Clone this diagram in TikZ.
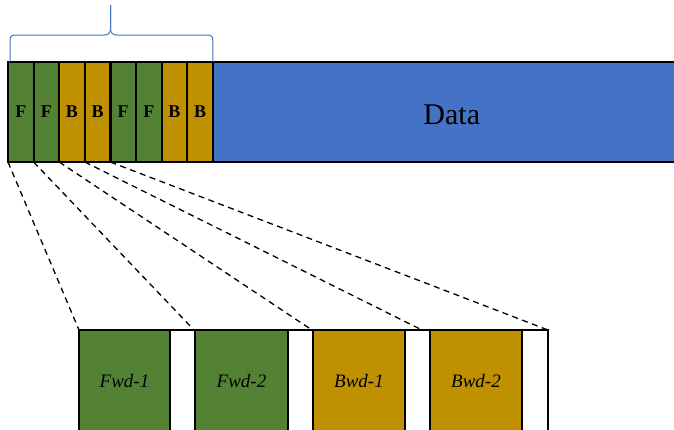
\documentclass[tikz,border=0pt]{standalone}
\usepackage{fontspec}
\setmainfont{Liberation Serif}
\definecolor{fwdgreen}{HTML}{548235}
\definecolor{bwdgold}{HTML}{BF9000}
\definecolor{datablue}{HTML}{4472C4}
\begin{document}
\begin{tikzpicture}[x=1pt,y=-1pt,
  box/.style={draw=black, line width=2.2pt, anchor=north west, inner sep=0pt, outer sep=0pt},
  cell/.style={box, minimum width=25.6pt, minimum height=100pt,
    font=\bfseries\fontsize{18}{18}\selectfont},
  fcell/.style={cell, fill=fwdgreen},
  bcell/.style={cell, fill=bwdgold},
  slot/.style={box, minimum height=102pt, font=\itshape\fontsize{19}{19}\selectfont},
  gap/.style={box, fill=white, minimum width=25pt, minimum height=102pt},
  link/.style={dashed, line width=1.3pt, dash pattern=on 6pt off 4.5pt}]
\useasboundingbox (0,0) rectangle (674,429);

% packed header: forward and backward cells followed by the data block
\node[fcell] (c1) at (8,62) {F};
\node[fcell] (c2) at (33.6,62) {F};
\node[bcell] (c3) at (59.2,62) {B};
\node[bcell] (c4) at (84.8,62) {B};
\node[fcell] (c5) at (110.4,62) {\raisebox{-2pt}{F}};
\node[fcell] (c6) at (136,62) {F};
\node[bcell] (c7) at (161.6,62) {B};
\node[bcell] (c8) at (187.2,62) {B};
\node[box, fill=datablue, minimum width=470pt, minimum height=100pt] (data) at (212.8,62) {};
\node[font=\fontsize{30}{30}\selectfont, inner sep=0pt] (datatext)
  at ([xshift=4pt,yshift=-3pt]data.center) {Data};

% brace over the header cells
\coordinate (bl) at (c1.north west);
\coordinate (br) at (c8.north east);
\coordinate (tip) at (110.5,5);
\draw[datablue, line width=1pt]
  ([xshift=2pt]bl) -- (10,40) .. controls (10,36) and (12,35) .. (16,35)
  -- (104,35) .. controls (108,35) and (110.5,33) .. (110.5,29) -- (tip);
\draw[datablue, line width=1pt]
  (tip) -- (110.5,29) .. controls (110.5,33) and (113,35) .. (117,35)
  -- (207,35) .. controls (211,35) and (212.8,36) .. (212.8,40) -- (br);

% expanded slots
\node[slot, fill=fwdgreen, minimum width=91pt] (fwd1) at (79,330) {Fwd-1};
\node[gap] (g1) at (170,330) {};
\node[slot, fill=fwdgreen, minimum width=93pt] (fwd2) at (195,330) {Fwd-2};
\node[gap] (g2) at (288,330) {};
\node[slot, fill=bwdgold, minimum width=92pt] (bwd1) at (313,330) {Bwd-1};
\node[gap] (g3) at (405,330) {};
\node[slot, fill=bwdgold, minimum width=92pt] (bwd2) at (430,330) {Bwd-2};
\node[gap, minimum width=26pt] (g4) at (522,330) {};

% dashed projections from the header to the slots
\coordinate (e4) at ([xshift=17pt]g3.north west);
\draw[link] (c1.south west) -- (fwd1.north west);
\draw[link] (c2.south west) -- ([xshift=-1pt]fwd2.north west);
\draw[link] (c3.south west) -- ([xshift=-1pt]bwd1.north west);
\draw[link] (c4.south west) -- (e4);
\draw[link] (c5.south west) -- (g4.north east);
\end{tikzpicture}
\end{document}
